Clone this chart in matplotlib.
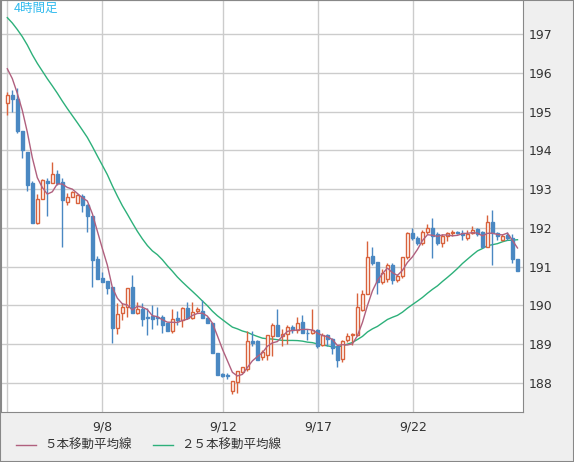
import matplotlib
matplotlib.use("Agg")
import matplotlib.pyplot as plt
import numpy as np
import pandas as pd

# prior closes (before visible window) used only to warm up the moving averages
prior_closes = [198.8, 198.7, 198.6, 198.5, 198.4, 198.3, 198.2, 198.1, 198.0, 197.9,
                197.8, 197.6, 197.5, 197.4, 197.3, 197.1, 197.0, 196.8, 196.6, 196.5,
                196.6, 196.4, 196.2, 195.9]

opens = [195.22,195.43,195.33,194.5,193.96,193.15,192.13,192.75,193.2,193.15,
         193.4,193.18,192.68,192.8,192.64,192.82,192.6,192.3,191.2,190.7,
         190.63,190.47,189.42,189.8,189.96,190.47,189.8,189.9,189.7,189.73,
         189.7,189.7,189.55,189.34,189.67,189.62,189.93,189.67,189.85,189.85,
         189.67,189.55,188.77,188.23,188.2,187.8,188.03,188.28,188.37,189.07,
         189.07,188.67,188.72,189.2,189.5,189.2,189.25,189.44,189.36,189.57,
         189.3,189.28,189.36,188.97,189.24,189.13,188.95,188.62,189.1,189.24,
         189.24,189.88,190.3,191.27,191.12,190.6,190.68,191.03,190.65,190.75,
         191.25,191.87,191.75,191.6,191.9,192.0,191.85,191.6,191.8,191.88,
         191.9,191.88,191.75,191.88,191.97,191.9,191.5,192.15,191.87,191.7,
         191.82,191.73,191.2]
highs = [195.5,195.55,195.6,194.5,193.96,193.2,192.88,193.25,193.3,193.7,
         193.5,193.3,192.9,192.95,192.87,192.87,192.62,192.3,191.27,190.86,
         190.63,190.47,190.05,190.07,190.45,190.79,190.1,190.06,189.93,190.0,
         189.95,189.75,189.55,189.9,189.85,189.97,190.1,190.1,189.95,190.15,
         189.7,189.55,188.77,188.25,188.25,188.05,188.3,188.42,189.34,189.35,
         189.1,188.85,189.24,189.55,189.9,189.4,189.5,189.5,189.7,189.75,
         189.4,189.9,189.4,189.3,189.25,189.15,188.95,189.1,189.3,189.28,
         190.32,190.4,191.66,191.5,191.12,190.95,191.1,191.1,190.8,191.25,
         191.9,192.0,191.8,191.95,192.1,192.25,191.9,191.85,191.9,191.95,
         191.92,191.95,191.95,192.05,192.0,191.92,192.33,192.45,191.9,191.85,
         191.9,191.85,191.2]
lows = [194.9,195.0,194.45,193.8,192.95,192.13,192.1,192.75,192.3,193.15,
        193.1,191.5,192.6,192.8,192.64,192.4,191.9,190.47,190.68,190.6,
        190.3,189.03,189.25,189.62,189.7,189.8,189.78,189.47,189.24,189.4,
        189.5,189.3,189.34,189.3,189.5,189.45,189.65,189.65,189.8,189.67,
        189.55,188.77,188.2,188.15,188.1,187.72,187.75,188.25,188.3,188.95,
        188.6,188.6,188.6,188.7,189.2,188.95,189.0,189.3,189.3,189.28,
        189.1,189.25,188.9,188.95,188.95,188.75,188.4,188.55,189.05,188.98,
        189.2,189.85,190.3,191.05,190.3,190.55,190.6,190.55,190.6,190.7,
        191.2,191.7,191.55,191.55,191.85,191.22,191.55,191.5,191.65,191.8,
        191.85,191.7,191.7,191.85,191.8,191.5,191.5,191.05,191.7,191.65,
        191.7,191.1,190.9]
closes = [195.43,195.33,194.5,194.0,193.1,192.13,192.75,193.23,193.15,193.4,
          193.15,192.72,192.8,192.93,192.85,192.59,192.3,191.17,190.68,190.6,
          190.45,189.42,189.78,189.96,190.45,189.8,189.9,189.65,189.67,189.65,
          189.68,189.5,189.34,189.65,189.63,189.93,189.67,189.83,189.9,189.67,
          189.55,188.77,188.2,188.18,188.17,188.05,188.3,188.4,189.07,189.03,
          188.6,188.8,189.24,189.5,189.2,189.27,189.44,189.36,189.55,189.28,
          189.28,189.36,188.96,189.24,189.13,188.9,188.6,189.07,189.2,189.27,
          189.96,190.3,191.25,191.1,190.6,190.84,191.03,190.65,190.75,191.25,
          191.87,191.75,191.6,191.9,192.0,191.8,191.6,191.8,191.88,191.9,
          191.86,191.82,191.85,191.95,191.85,191.5,192.15,191.87,191.78,191.8,
          191.73,191.2,190.9]

tick_labels = ["", "9/8", "9/12", "9/17", "9/22"]
y_ticks = [188, 189, 190, 191, 192, 193, 194, 195, 196, 197]
title = "4時間足"
legend_labels = ["５本移動平均線", "２５本移動平均線"]

tick_pos = [-0.05, 19.0, 43.2, 62.2, 81.2]

UP = "#d9623c"
DOWN = "#4a88c2"
MA5C = "#b0607e"
MA25C = "#2db07a"

n = len(closes)
x = np.arange(n)
allc = pd.Series(prior_closes + closes)
ma5 = allc.rolling(5).mean().values[len(prior_closes):]
ma25 = allc.rolling(25).mean().values[len(prior_closes):]

fig = plt.figure(figsize=(5.74, 4.62), dpi=100, facecolor="#efefef")
ax = fig.add_axes([1/574, 50/462, 522/574, 412/462])
ax.set_facecolor("white")

ax.set_xlim(-1.26, 103.1)
ax.set_ylim(187.25, 197.88)
ax.set_xticks(tick_pos)
ax.set_xticklabels(tick_labels, fontsize=9, color="#333333")
ax.set_yticks(y_ticks)
ax.set_yticklabels([str(v) for v in y_ticks], fontsize=9, color="#333333")
ax.yaxis.tick_right()
ax.tick_params(length=0, pad=4)
ax.tick_params(axis="x", pad=6)
ax.grid(True, color="#cccccc", linewidth=1)
ax.set_axisbelow(True)
for s in ax.spines.values():
    s.set_color("#888888")

ax.plot(x, ma25, color=MA25C, lw=1, zorder=2)
ax.plot(x, ma5, color=MA5C, lw=1, zorder=4)

w = 0.55
for i in range(n):
    o, h, l, c = opens[i], highs[i], lows[i], closes[i]
    up = c >= o
    col = UP if up else DOWN
    lo, hi = min(o, c), max(o, c)
    ax.vlines(i, l, lo, color=col, lw=1, zorder=3)
    ax.vlines(i, hi, h, color=col, lw=1, zorder=3)
    bh = max(hi - lo, 0.02)
    ax.add_patch(plt.Rectangle((i - w/2, lo), w, bh,
                               facecolor="white" if up else col,
                               edgecolor=col, lw=1, zorder=3))

ax.text(0.025, 0.995, title, transform=ax.transAxes, ha="left", va="top",
        color="#33bbee", fontsize=9, family=["Noto Sans CJK JP", "DejaVu Sans"])

fig.lines.append(plt.Line2D([16/574, 36/574], [17/462, 17/462], color=MA5C, lw=1,
                            transform=fig.transFigure))
fig.text(44/574, 17/462, legend_labels[0], va="center", fontsize=9, color="#333333",
         family=["Noto Sans CJK JP", "DejaVu Sans"])
fig.lines.append(plt.Line2D([153/574, 173/574], [17/462, 17/462], color=MA25C, lw=1,
                            transform=fig.transFigure))
fig.text(181/574, 17/462, legend_labels[1], va="center", fontsize=9, color="#333333",
         family=["Noto Sans CJK JP", "DejaVu Sans"])

fig.patches.append(plt.Rectangle((0, 0), 1, 1, transform=fig.transFigure, fill=False,
                                 edgecolor="#888888", lw=1.5))
fig.savefig("out.png", dpi=100, facecolor=fig.get_facecolor())
